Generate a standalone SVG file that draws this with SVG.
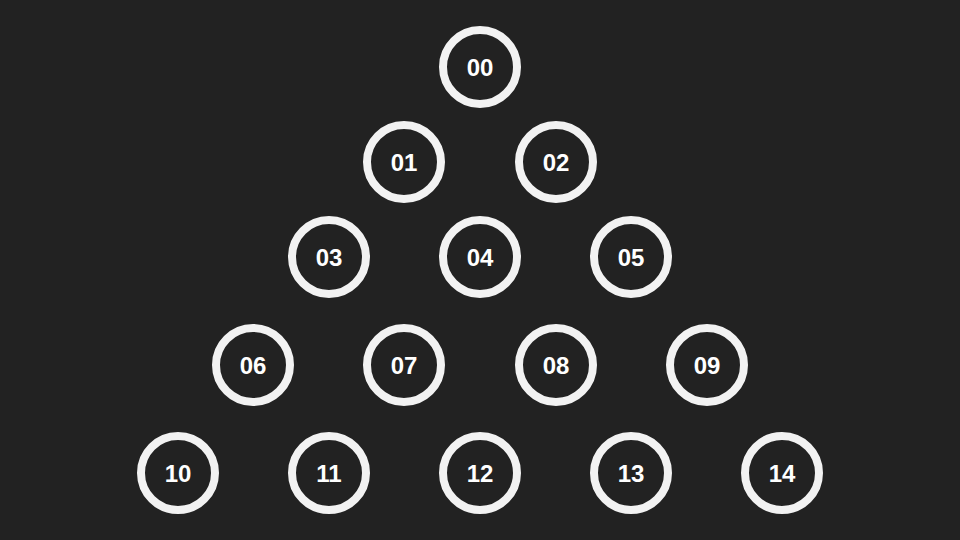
<svg xmlns="http://www.w3.org/2000/svg" width="960" height="540" viewBox="0 0 960 540">
<style>
.n circle{fill:#222222;stroke:#f2f2f2;stroke-width:8}
.n text{fill:#ffffff;font-family:"Liberation Sans",Arial,sans-serif;font-weight:bold;font-size:24px;text-anchor:middle;dominant-baseline:central}
</style>
<rect width="960" height="540" fill="#222222"/>
<g id="connectors"></g>
<g id="n00" class="n"><circle cx="480" cy="67" r="37"/><text x="480" y="67">00</text></g>
<g id="n01" class="n"><circle cx="404" cy="162" r="37"/><text x="404" y="162">01</text></g>
<g id="n02" class="n"><circle cx="556" cy="162" r="37"/><text x="556" y="162">02</text></g>
<g id="n03" class="n"><circle cx="329" cy="257" r="37"/><text x="329" y="257">03</text></g>
<g id="n04" class="n"><circle cx="480" cy="257" r="37"/><text x="480" y="257">04</text></g>
<g id="n05" class="n"><circle cx="631" cy="257" r="37"/><text x="631" y="257">05</text></g>
<g id="n06" class="n"><circle cx="253" cy="365" r="37"/><text x="253" y="365">06</text></g>
<g id="n07" class="n"><circle cx="404" cy="365" r="37"/><text x="404" y="365">07</text></g>
<g id="n08" class="n"><circle cx="556" cy="365" r="37"/><text x="556" y="365">08</text></g>
<g id="n09" class="n"><circle cx="707" cy="365" r="37"/><text x="707" y="365">09</text></g>
<g id="n10" class="n"><circle cx="178" cy="473" r="37"/><text x="178" y="473">10</text></g>
<g id="n11" class="n"><circle cx="329" cy="473" r="37"/><text x="329" y="473">11</text></g>
<g id="n12" class="n"><circle cx="480" cy="473" r="37"/><text x="480" y="473">12</text></g>
<g id="n13" class="n"><circle cx="631" cy="473" r="37"/><text x="631" y="473">13</text></g>
<g id="n14" class="n"><circle cx="782" cy="473" r="37"/><text x="782" y="473">14</text></g>
</svg>
